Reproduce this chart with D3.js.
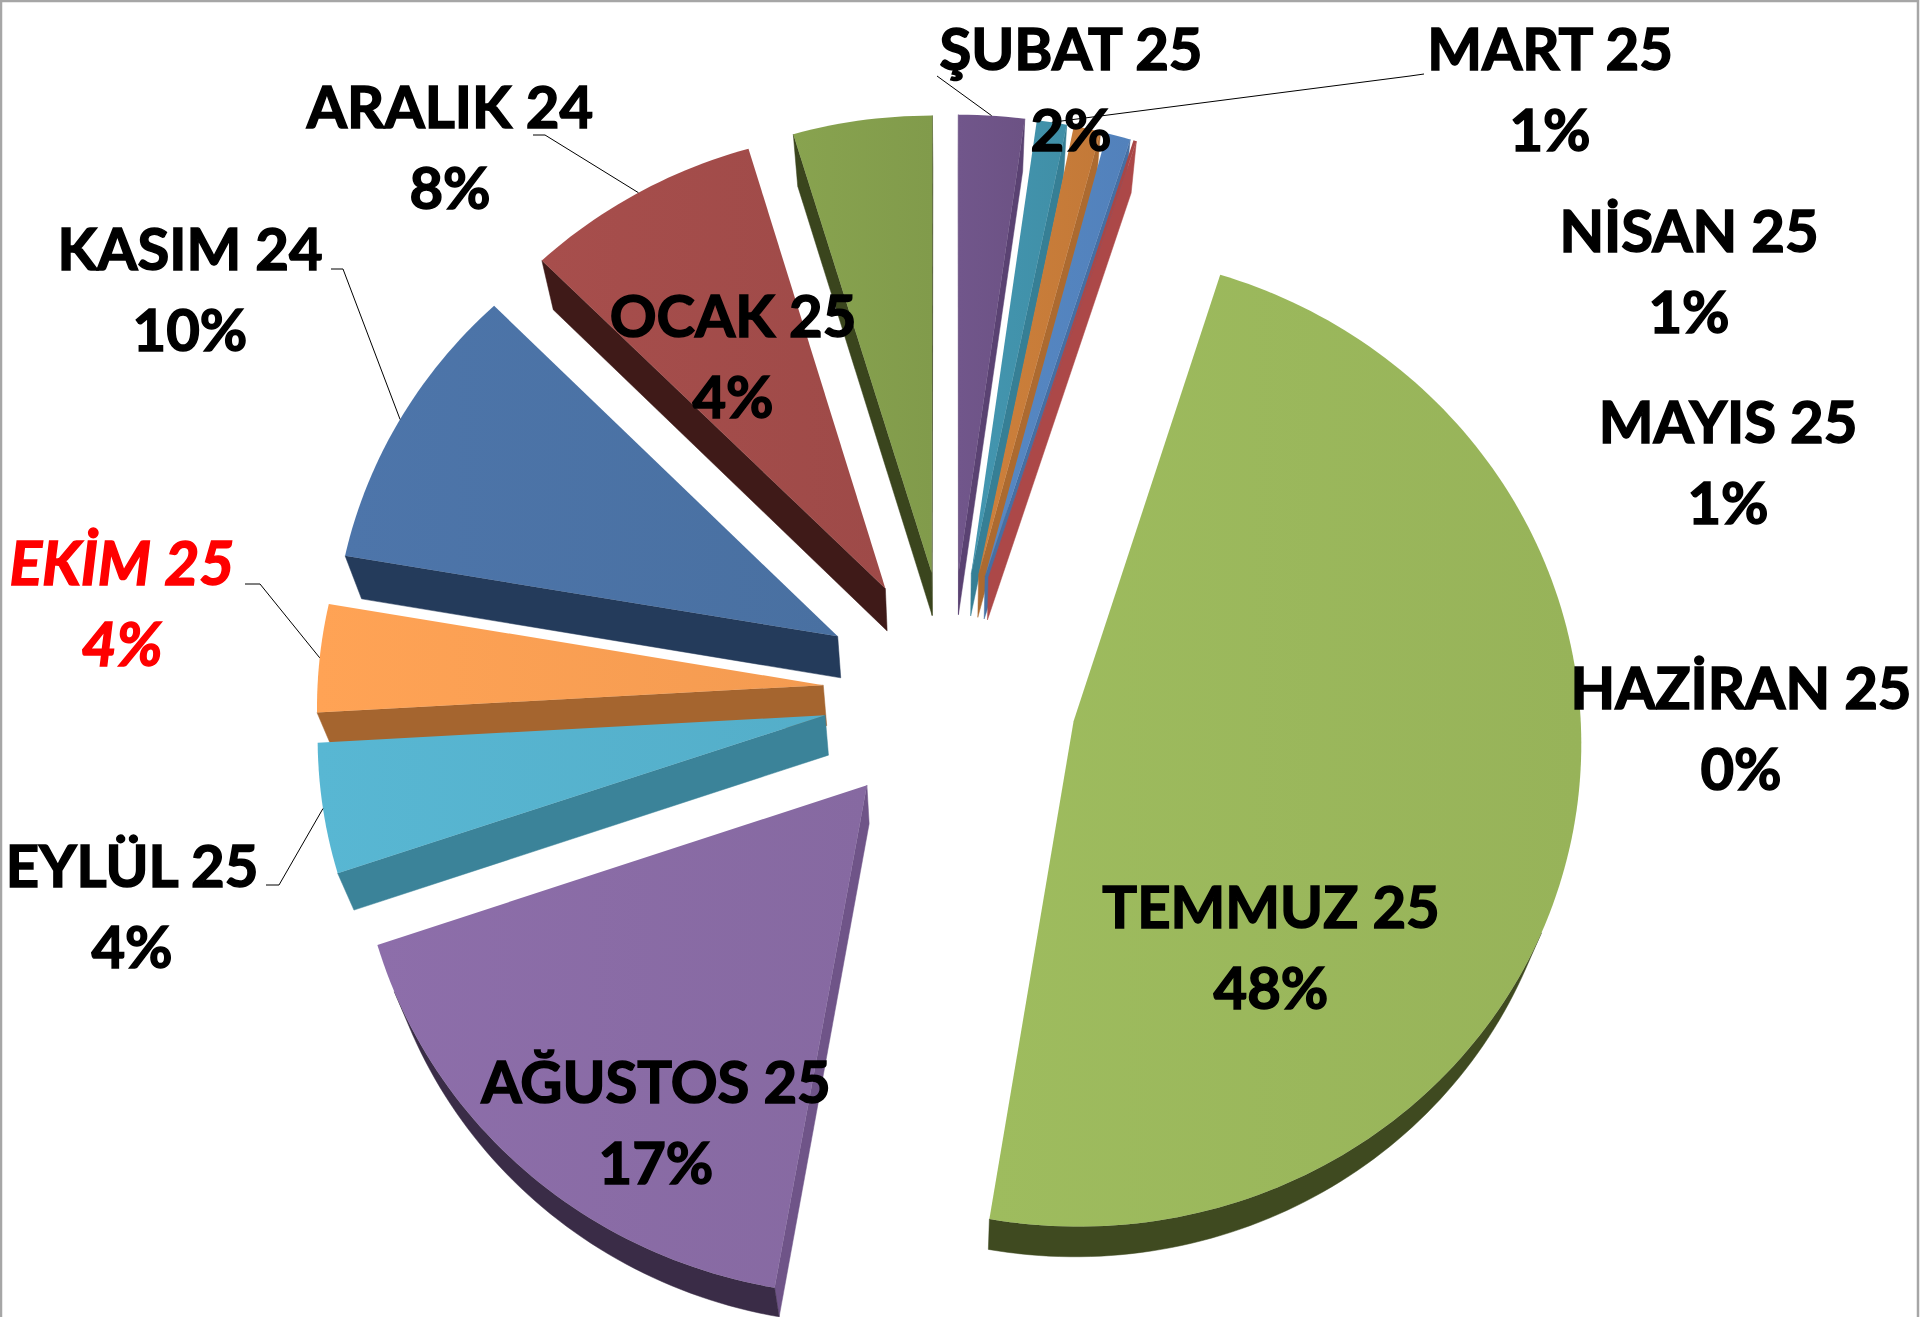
<!DOCTYPE html>
<html>
<head>
<meta charset="utf-8">
<script src="https://cdn.jsdelivr.net/npm/d3@7"></script>
<style>
  body { margin: 0; background: #fff; }
  text { font-family: Lato, Carlito, sans-serif; font-weight: 700; }
</style>
</head>
<body>
<svg id="chart" width="1920" height="1317"></svg>
<script>
const months = ["ŞUBAT 25", "MART 25", "NİSAN 25", "MAYIS 25", "HAZİRAN 25", "TEMMUZ 25",
    "AĞUSTOS 25", "EYLÜL 25", "EKİM 25", "KASIM 24", "ARALIK 24", "OCAK 25"]
const shares = [2.2, 1.0, 0.9, 0.8, 0.1, 47.7, 17.1, 4.3, 3.6, 9.8, 7.85, 4.65]
const percentLabels = ["2%", "1%", "1%", "1%", "0%", "48%", "17%", "4%", "4%", "10%", "8%", "4%"]

const faceColors = ["#6f5488", "#4293ac", "#c97d3a", "#5485c0", "#ac4848", "#9bb85c",
    "#8a6ca6", "#56b3cf", "#fba053", "#4b73a6", "#a34c4a", "#85a04d"]
const sideColors = ["#5a4272", "#367f95", "#ac6a30", "#466fa3", "#ac4848", "#5f7336",
    "#6f5488", "#3b8399", "#a5652f", "#243b5b", "#3f1a18", "#3a451d"]
const rimColors = ["#3a2c47", "#2a5f70", "#7a4a20", "#2a4468", "#6a2a2a", "#3f4a20",
    "#3a2c47", "#3b8399", "#a5652f", "#243b5b", "#3f1a18", "#3a451d"]

// label centre of the first line, leader elbow (null when the label has no leader)
const labelPlaces = [[1071, 49], [1550, 49], [1689, 231], [1728, 422], [1741, 688], [1271, 907],
    [656, 1082], [132, 866], [122, 564], [190, 249], [450, 107], [733, 316]]
const leaders = [[[937, 76]], [[1424, 74], [1410, 76]], null, null, null, null,
    null, [[266, 885], [279, 885]], [[245, 584], [260, 584]], [[331, 269], [343, 269]],
    [[533, 135], [545, 135]], null]

const cx = 950, cy = 692
const radius = 506, explode = 127
const tilt = 0.958, persp = 7.5e-5

function project(X, Y) {
    const s = 1 + persp * Y
    return [cx + X * s, cy + Y * tilt * s]
}
function lower(X, Y) {
    const p = project(X, Y)
    return [p[0] - 0.027 * X, p[1] + 40.4 - 0.019 * Y]
}

const svg = d3.select("#chart")
const defs = svg.append("defs")
const line = d3.line()

svg.append("path")
    .attr("d", "M1,1317V1H1918V1317")
    .attr("fill", "none").attr("stroke", "#a6a6a6").attr("stroke-width", 2.5)

const pie = d3.pie().sort(null).value(d => d.share).startAngle(0).endAngle(2 * Math.PI)
const slices = pie(months.map((m, i) => ({month: m, share: shares[i], i})))

slices.forEach(s => {
    s.mid = (s.startAngle + s.endAngle) / 2
    const off = d3.pointRadial(s.mid, explode)
    s.off = off
    const steps = Math.max(2, Math.ceil((s.endAngle - s.startAngle) / 0.02))
    const angle = d3.scaleLinear().domain([0, steps]).range([s.startAngle, s.endAngle])
    s.world = [off].concat(d3.range(steps + 1).map(k => {
        const p = d3.pointRadial(angle(k), radius)
        return [off[0] + p[0], off[1] + p[1]]
    }))
})

// slight left to right shading on the top faces
faceColors.forEach((c, i) => {
    const g = defs.append("linearGradient").attr("id", "face" + i)
    g.append("stop").attr("offset", "0%").attr("stop-color", d3.color(c).brighter(0.06))
    g.append("stop").attr("offset", "100%").attr("stop-color", d3.color(c).darker(0.08))
})

// back slices first so the nearer ones cover them
const drawOrder = slices.slice().sort((a, b) => a.off[1] - b.off[1])

const pieG = svg.append("g")
drawOrder.forEach(s => {
    const top = s.world.map(w => project(w[0], w[1]))
    const low = s.world.map(w => lower(w[0], w[1]))
    const n = top.length

    // polygon runs clockwise on screen, wall shows when its normal faces the drop
    const shows = k => {
        const k2 = (k + 1) % n
        const dx = top[k2][0] - top[k][0], dy = top[k2][1] - top[k][1]
        const ox = low[k][0] - top[k][0], oy = low[k][1] - top[k][1]
        return dy * ox - dx * oy > 0
    }
    const wall = (from, to, color) => {
        const idx = d3.range(from, to + 1).map(k => k % n)
        const outline = idx.map(k => top[k]).concat(idx.slice().reverse().map(k => low[k]))
        pieG.append("path")
            .attr("d", line(outline) + "Z")
            .attr("fill", color).attr("stroke", color).attr("stroke-width", 0.5)
    }

    if (shows(0)) wall(0, 1, sideColors[s.data.i])
    if (shows(n - 1)) wall(n - 1, n, sideColors[s.data.i])
    let runStart = null
    d3.range(1, n).forEach(k => {
        const on = k < n - 1 && shows(k)
        if (on && runStart === null) runStart = k
        if (!on && runStart !== null) {
            wall(runStart, k, rimColors[s.data.i])
            runStart = null
        }
    })
    pieG.append("path")
        .attr("d", line(top) + "Z")
        .attr("fill", "url(#face" + s.data.i + ")")
})

const leaderG = svg.append("g")
slices.forEach(s => {
    const elbow = leaders[s.data.i]
    if (!elbow) return
    const p = d3.pointRadial(s.mid, radius)
    const end = project(s.off[0] + p[0], s.off[1] + p[1])
    leaderG.append("path")
        .attr("d", line(elbow.concat([end])))
        .attr("fill", "none").attr("stroke", "#000").attr("stroke-width", 1)
})

const labelG = svg.append("g")
slices.forEach(s => {
    const place = labelPlaces[s.data.i]
    const red = s.data.month === "EKİM 25"
    const color = red ? "#ff0000" : "#000"
    const t = labelG.append("text")
        .attr("text-anchor", "middle")
        .attr("font-size", red ? 60.5 : 58)
        .attr("fill", color)
        .attr("stroke", color)
        .attr("stroke-width", 1.5)
        .attr("font-style", red ? "italic" : "normal")
    t.append("tspan").attr("x", place[0]).attr("y", place[1] + 21).text(s.data.month)
    t.append("tspan").attr("x", place[0]).attr("y", place[1] + 102).text(percentLabels[s.data.i])
})
</script>
</body>
</html>
